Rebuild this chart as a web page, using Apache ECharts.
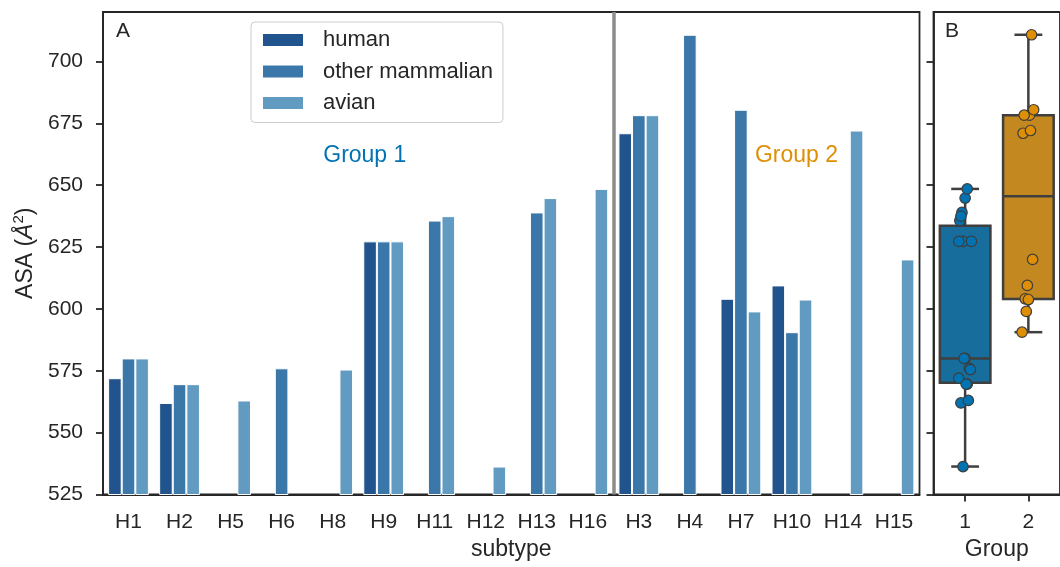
<!DOCTYPE html>
<html><head><meta charset="utf-8">
<script src="https://cdn.jsdelivr.net/npm/echarts@6/dist/echarts.min.js"></script>
<style>html,body{margin:0;padding:0;background:#fff;} #c{width:1060px;height:567px;}</style>
</head><body><div id="c"></div>
<script>
// ---------------- data ----------------
const subtypes = ['H1','H2','H5','H6','H8','H9','H11','H12','H13','H16','H3','H4','H7','H10','H14','H15'];
const subtypeGroup = [1,1,1,1,1,1,1,1,1,1,2,2,2,2,2,2];
const hostNames = ['human','other mammalian','avian'];
const human          = [572, 562, null, null, null, 627.3, null, null, null, null, 671, null, 604.1, 609.5, null, null];
const otherMammalian = [580, 569.6, null, 576, null, 627.3, 635.7, null, 639, null, 678.3, 710.8, 680.5, 590.6, null, null];
const avian          = [580, 569.6, 563, null, 575.5, 627.3, 637.5, 536.3, 644.8, 648.5, 678.3, null, 599, 603.8, 672.1, 620];
const groupNames = ['1','2'];
const groupLabels = ['Group 1','Group 2'];
const yTicks = [525,550,575,600,625,650,675,700];

// ---------------- styles / layout ----------------
const TXT = '#262626';
const FONT = '"Liberation Sans", Arial, sans-serif';
const barColors = ['#21548c','#3b77a8','#629bc1'];
const boxColors = ['#176d9c','#c38820'];
const pointColors = ['#0173b2','#de8f05'];
const Y_MIN = 525, Y_MAX = 720;
const groupLabelAt = [[4.63, 662],[13.09, 662]]; // annotation anchors in data units
const dividerAt = 9.5;
const TICK_FS = 21, LAB_FS = 23, LEG_FS = 22;

// ---------------- derived ----------------
const hostSeries = [human, otherMammalian, avian];
const groupValues = [[],[]];
hostSeries.forEach(arr => arr.forEach((v,i) => { if (v != null) groupValues[subtypeGroup[i]-1].push(v); }));
function quantile(a,p){ const H=(a.length-1)*p, h=Math.floor(H), e=H-h; return e ? a[h]+e*(a[h+1]-a[h]) : a[h]; }
const boxData = groupValues.map((vals,gi) => {
  const s = vals.slice().sort((a,b)=>a-b);
  const q1 = quantile(s,0.25), q2 = quantile(s,0.5), q3 = quantile(s,0.75), iqr = q3-q1;
  const lo = Math.min(...s.filter(v => v >= q1-1.5*iqr));
  const hi = Math.max(...s.filter(v => v <= q3+1.5*iqr));
  return [gi, lo, q1, q2, q3, hi];
});
const stripData = [];
groupValues.forEach((vals,gi) => vals.forEach((v,k) => {
  const j = (((k*7919 + gi*131) % 13) / 12 - 0.5) * 0.2;
  stripData.push({value:[gi + j, v], itemStyle:{color: pointColors[gi]}});
}));

const axisLineStyle = {color: TXT, width: 1.8};
const chart = echarts.init(document.getElementById('c'), null, {renderer:'canvas'});
const option = {
  animation: false,
  backgroundColor: '#fff',
  textStyle: {fontFamily: FONT},
  title: [
    {text:'A', left:111, top:16, textStyle:{fontSize:21, fontWeight:'normal', color:TXT, fontFamily:FONT}},
    {text:'B', left:940, top:16, textStyle:{fontSize:21, fontWeight:'normal', color:TXT, fontFamily:FONT}}
  ],
  legend: {
    data: hostNames, orient:'vertical', left:251, top:22, icon:'rect',
    itemWidth:42, itemHeight:14, itemGap:9.5, padding:[7,10,8.5,10],
    borderColor:'#cccccc', borderWidth:1, borderRadius:4, backgroundColor:'#fff',
    textStyle:{fontSize:LEG_FS, color:TXT, fontFamily:FONT, padding:[0,0,0,14], lineHeight:22}
  },
  grid: [
    {left:103, top:12, width:816.5, height:482.5, show:true, borderColor:TXT, borderWidth:1.8, containLabel:false},
    {left:933.5, top:12, width:135.4, height:482.5, show:true, borderColor:TXT, borderWidth:1.8, containLabel:false}
  ],
  xAxis: [
    {gridIndex:0, type:'category', data:subtypes,
     axisLine:{onZero:false, lineStyle:axisLineStyle},
     axisTick:{alignWithLabel:true, length:7, lineStyle:{color:TXT, width:1.8}},
     axisLabel:{fontSize:TICK_FS, color:TXT, margin:17, fontFamily:FONT, interval:0},
     name:'subtype', nameLocation:'middle', nameGap:44,
     nameTextStyle:{fontSize:LAB_FS, color:TXT, fontFamily:FONT}},
    {gridIndex:0, type:'value', min:-0.5, max:15.5, show:false},
    {gridIndex:1, type:'value', min:-0.5, max:1.5, splitLine:{show:false},
     axisLine:{onZero:false, lineStyle:axisLineStyle},
     axisTick:{length:7, lineStyle:{color:TXT, width:1.8}, customValues:[0,1]},
     axisLabel:{fontSize:TICK_FS, color:TXT, margin:17, fontFamily:FONT, customValues:[0,1], formatter:v => groupNames[Math.round(v)]},
     name:'Group', nameLocation:'middle', nameGap:44,
     nameTextStyle:{fontSize:LAB_FS, color:TXT, fontFamily:FONT}}
  ],
  yAxis: [
    {gridIndex:0, type:'value', min:Y_MIN, max:Y_MAX, interval:25, splitLine:{show:false},
     axisLine:{show:true, onZero:false, lineStyle:axisLineStyle},
     axisTick:{show:true, length:7, lineStyle:{color:TXT, width:1.8}, customValues:yTicks},
     axisLabel:{fontSize:TICK_FS, color:TXT, margin:20, fontFamily:FONT, customValues:yTicks},
     name:'{n|ASA (}{i|Å}{s|2}{n|)}', nameLocation:'middle', nameRotate:90, nameGap:58,
     nameTextStyle:{fontSize:LAB_FS, color:TXT, fontFamily:FONT,
       rich:{n:{fontSize:LAB_FS, color:TXT, fontFamily:FONT, lineHeight:28},
             i:{fontSize:LAB_FS, color:TXT, fontFamily:FONT, fontStyle:'italic', lineHeight:28},
             s:{fontSize:15, color:TXT, fontFamily:FONT, verticalAlign:'top', lineHeight:15}}}},
    {gridIndex:1, type:'value', min:Y_MIN, max:Y_MAX, interval:25, splitLine:{show:false},
     axisLine:{show:true, onZero:false, lineStyle:axisLineStyle},
     axisTick:{show:true, length:7, lineStyle:{color:TXT, width:1.8}, customValues:yTicks},
     axisLabel:{show:false}}
  ],
  series: [
    ...hostSeries.map((arr,si) => ({
      name: hostNames[si], type:'bar', xAxisIndex:0, yAxisIndex:0,
      data: arr.map(v => v == null ? '-' : v),
      barWidth: 13.6, barGap:'0%', barCategoryGap:'20%',
      itemStyle:{color: barColors[si], borderColor:'#ffffff', borderWidth:1},
      clip:true
    })),
    {type:'line', xAxisIndex:1, yAxisIndex:0, data:[[dividerAt, 600]], showSymbol:false, silent:true,
     lineStyle:{opacity:0},
     markLine:{silent:true, symbol:'none', label:{show:false}, animation:false,
       lineStyle:{color:'#8c8c8c', width:3.5, type:'solid'}, data:[{xAxis:dividerAt}]}},
    {type:'scatter', xAxisIndex:1, yAxisIndex:0, symbolSize:0, silent:true,
     itemStyle:{color:'rgba(0,0,0,0)', opacity:1},
     data: groupLabels.map((t,i) => ({value:groupLabelAt[i], name:t,
       label:{show:true, position:'inside', formatter:t, color:pointColors[i], opacity:1, fontSize:LAB_FS, fontFamily:FONT}}))},
    {type:'custom', xAxisIndex:2, yAxisIndex:1, data: boxData, encode:{x:0, y:[1,2,3,4,5]},
     renderItem: function(params, api){
       const x = api.value(0), lo = api.value(1), q1 = api.value(2), med = api.value(3), q3 = api.value(4), hi = api.value(5);
       const hw = 0.4, cw = 0.22;
       const tl = api.coord([x-hw, q3]), br = api.coord([x+hw, q1]);
       const mL = api.coord([x-hw, med]), mR = api.coord([x+hw, med]);
       const pLo = api.coord([x, lo]), pHi = api.coord([x, hi]);
       const pQ1 = api.coord([x, q1]), pQ3 = api.coord([x, q3]);
       const cLoL = api.coord([x-cw, lo]), cLoR = api.coord([x+cw, lo]);
       const cHiL = api.coord([x-cw, hi]), cHiR = api.coord([x+cw, hi]);
       const ls = {stroke:'#3f3f3f', lineWidth:2.5, fill:null};
       const ln = (a,b) => ({type:'line', shape:{x1:a[0],y1:a[1],x2:b[0],y2:b[1]}, style:ls});
       return {type:'group', children:[
         ln(pHi, pQ3), ln(pLo, pQ1), ln(cLoL, cLoR), ln(cHiL, cHiR),
         {type:'rect', shape:{x:tl[0], y:tl[1], width:br[0]-tl[0], height:br[1]-tl[1]},
          style:{fill:boxColors[params.dataIndex], stroke:'#3f3f3f', lineWidth:2.5}},
         ln(mL, mR)
       ]};
     }},
    {type:'scatter', xAxisIndex:2, yAxisIndex:1, symbolSize:10.5, z:5,
     itemStyle:{borderColor:'#3d3d3d', borderWidth:1.2, opacity:1},
     data: stripData}
  ]
};
chart.setOption(option);
</script>
</body></html>
